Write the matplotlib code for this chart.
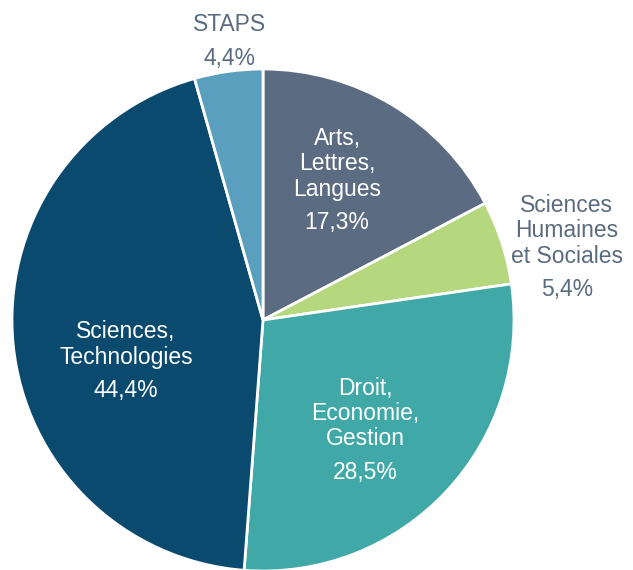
import numpy as np
import matplotlib.pyplot as plt

plt.rcParams['font.family'] = ['Liberation Sans', 'DejaVu Sans']

noms = ['Arts,\nLettres,\nLangues', 'Sciences\nHumaines\net Sociales',
        'Droit,\nEconomie,\nGestion', 'Sciences,\nTechnologies', 'STAPS']
parts = [17.3, 5.4, 28.5, 44.4, 4.4]
couleurs = ['#5b6b82', '#b5d77e', '#41a8a8', '#0b4a6f', '#5a9fbd']
couleurs_txt = ['white', '#5a6b80', 'white', 'white', '#5a6b80']
# position des etiquettes : (angle en degres, distance au centre en rayons)
pos_labels = [(57.6, 0.55), (9.25, 1.227), (-52.5, 0.668), (200.6, 0.583), (96.7, 1.129)]

fig = plt.figure(figsize=(6.33, 5.7), dpi=100)
R = 251
ax = fig.add_axes([(263 - R) / 633, (250 - R) / 570, 2 * R / 633, 2 * R / 570])
ax.pie(parts, colors=couleurs, startangle=90, counterclock=False, radius=1,
       wedgeprops=dict(edgecolor='white', linewidth=2))
ax.set_xlim(-1, 1)
ax.set_ylim(-1, 1)
ax.axis('off')

for nom, p, (ang, d), c in zip(noms, parts, pos_labels, couleurs_txt):
    x = d * np.cos(np.radians(ang))
    y = d * np.sin(np.radians(ang))
    pct = f'{p:.1f}%'.replace('.', ',')
    ax.annotate(nom, (x, y), xytext=(0, 2), textcoords='offset points',
                ha='center', va='bottom', color=c, fontsize=16.5, linespacing=1.13,
                annotation_clip=False)
    ax.annotate(pct, (x, y), xytext=(0, -14), textcoords='offset points',
                ha='center', va='center', color=c, fontsize=16.5,
                annotation_clip=False)

fig.savefig('out.png', dpi=100)
